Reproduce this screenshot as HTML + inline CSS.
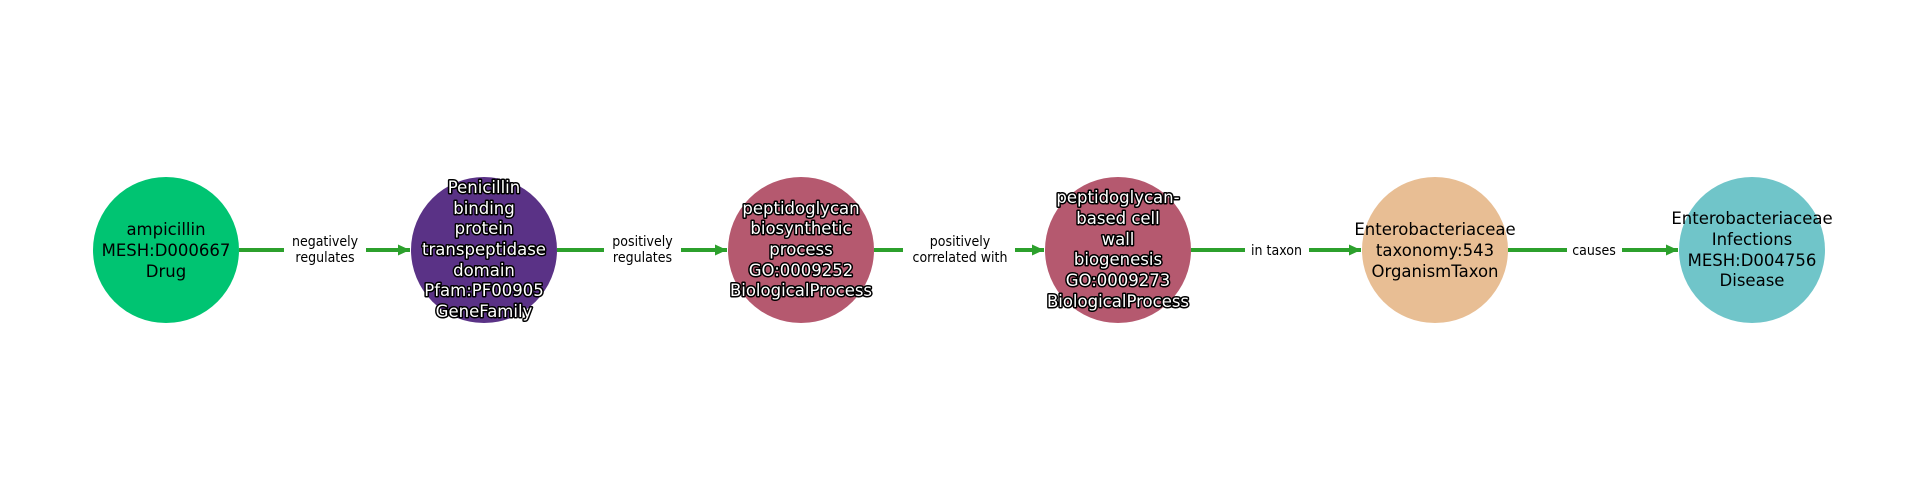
<!DOCTYPE html>
<html><head><meta charset="utf-8"><style>
html,body{margin:0;padding:0;background:#fff;}
svg{display:block;}
text{font-family:"DejaVu Sans","Liberation Sans",sans-serif;}
.n{font-size:16.5px;text-anchor:middle;fill:#000;}
.o{fill:#fff;stroke:#000;stroke-width:3px;paint-order:stroke;stroke-linejoin:round;}
.e{font-size:14.5px;text-anchor:middle;fill:#000;}
</style></head><body>
<svg width="1920" height="500" viewBox="0 0 1920 500" xmlns="http://www.w3.org/2000/svg">
<defs>
<marker id="ah" markerWidth="14" markerHeight="14" refX="12" refY="5.5" orient="auto" markerUnits="userSpaceOnUse">
<path d="M0,0 L12,5.5 L0,11 Z" fill="#2ca02c"/>
</marker>
</defs>
<g stroke="#2ca02c" stroke-width="4" fill="none">
<line x1="239" y1="250" x2="410" y2="250" marker-end="url(#ah)"/>
<line x1="557" y1="250" x2="727" y2="250" marker-end="url(#ah)"/>
<line x1="874" y1="250" x2="1044" y2="250" marker-end="url(#ah)"/>
<line x1="1191" y1="250" x2="1361" y2="250" marker-end="url(#ah)"/>
<line x1="1508" y1="250" x2="1678" y2="250" marker-end="url(#ah)"/>
</g>
<g fill="#fff">
<rect x="284" y="232" width="82" height="36"/>
<rect x="604" y="232" width="77" height="36"/>
<rect x="903" y="232" width="112" height="36"/>
<rect x="1245" y="240" width="64" height="20"/>
<rect x="1567" y="240" width="55" height="20"/>
</g>
<g class="e">
<g transform="translate(325,0) scale(0.87,1)"><text x="0" y="246">negatively</text><text x="0" y="262">regulates</text></g>
<g transform="translate(642.5,0) scale(0.87,1)"><text x="0" y="246">positively</text><text x="0" y="262">regulates</text></g>
<g transform="translate(960,0) scale(0.87,1)"><text x="0" y="246">positively</text><text x="0" y="262">correlated with</text></g>
<g transform="translate(1276.5,0) scale(0.87,1)"><text x="0" y="255">in taxon</text></g>
<g transform="translate(1594,0) scale(0.87,1)"><text x="0" y="255">causes</text></g>
</g>
<circle cx="166" cy="250" r="73" fill="#00c472"/>
<circle cx="484" cy="250" r="73" fill="#5a3286"/>
<circle cx="801" cy="250" r="73" fill="#b5596f"/>
<circle cx="1118" cy="250" r="73" fill="#b5596f"/>
<circle cx="1435" cy="250" r="73" fill="#e8be94"/>
<circle cx="1752" cy="250" r="73" fill="#70c5c9"/>
<g class="n">
<text x="166" y="235">ampicillin</text><text x="166" y="256">MESH:D000667</text><text x="166" y="277">Drug</text>
</g>
<g class="n o">
<text x="484" y="193">Penicillin</text><text x="484" y="214">binding</text><text x="484" y="234">protein</text><text x="484" y="255">transpeptidase</text><text x="484" y="276">domain</text><text x="484" y="296">Pfam:PF00905</text><text x="484" y="317">GeneFamily</text>
<text x="801" y="214">peptidoglycan</text><text x="801" y="234">biosynthetic</text><text x="801" y="255">process</text><text x="801" y="276">GO:0009252</text><text x="801" y="296">BiologicalProcess</text>
<text x="1118" y="203">peptidoglycan-</text><text x="1118" y="224">based cell</text><text x="1118" y="245">wall</text><text x="1118" y="265">biogenesis</text><text x="1118" y="286">GO:0009273</text><text x="1118" y="307">BiologicalProcess</text>
</g>
<g class="n">
<text x="1435" y="235">Enterobacteriaceae</text><text x="1435" y="256">taxonomy:543</text><text x="1435" y="277">OrganismTaxon</text>
<text x="1752" y="224">Enterobacteriaceae</text><text x="1752" y="245">Infections</text><text x="1752" y="266">MESH:D004756</text><text x="1752" y="286">Disease</text>
</g>
</svg>
</body></html>
